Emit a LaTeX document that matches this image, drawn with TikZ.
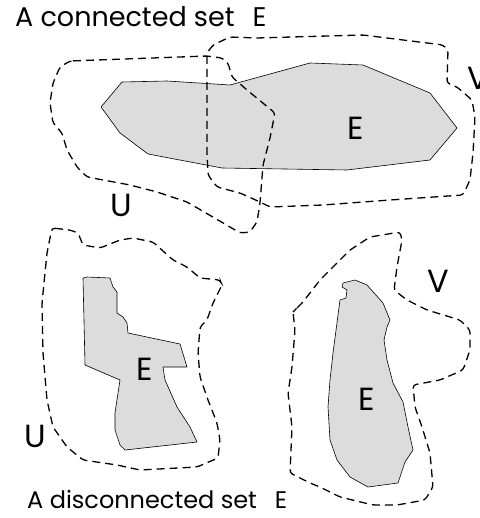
\documentclass[tikz,border=0pt]{standalone}
\usepackage{fontspec}
\setmainfont{Poppins}
\begin{document}
\begin{tikzpicture}[x=1pt,y=-1pt,
  setfill/.style={fill={rgb,255:red,220;green,220;blue,220}, draw=black, line width=0.6pt, line join=round},
  nbhd/.style={draw=black, dashed, dash pattern=on 8pt off 5pt, line width=1.3pt, rounded corners=3pt},
  lbl/.style={anchor=base, inner sep=0pt, font=\fontsize{32}{36}\selectfont},
  ttl/.style={anchor=base west, inner sep=0pt, font=\fontsize{24}{28}\selectfont}]
\useasboundingbox (0,0) rectangle (479,518);
% top: connected set
\path[setfill] (101,107) -- (122,82) -- (167,81) -- (230,85) -- (310,63) -- (363,65) -- (430,93) -- (457,128) -- (430,160) -- (347,170) -- (222,168) -- (148,154) -- (120,133) -- cycle;
\path[nbhd] (70,61) -- (207,56) -- (222,58) -- (228,63) -- (232,77) -- (247,90) -- (275,113) -- (270,138) -- (263,165) -- (260,203) -- (257,222) -- (250,232) -- (240,233) -- (230,227) -- (187,202) -- (157,192) -- (130,185) -- (87,177) -- (77,167) -- (67,150) -- (62,133) -- (53,123) -- (50,103) -- (53,83) -- (60,67) -- cycle;
\path[nbhd] (207,53) -- (213,45) -- (230,37) -- (257,38) -- (363,35) -- (443,45) -- (448,50) -- (447,83) -- (457,87) -- (472,100) -- (475,117) -- (473,153) -- (470,180) -- (463,195) -- (390,200) -- (323,205) -- (270,207) -- (260,202) -- (240,193) -- (217,187) -- (208,175) -- (207,153) -- cycle;
\node[ttl, font=\fontsize{27}{30}\selectfont] (t1) at (15,27) {A connected set\hspace{18pt}E};
\node[lbl] (e1) at (356,140) {E};
\node[lbl] (u1) at (121,217) {U};
\node[lbl] (v1) at (478,90) {V};
% bottom: disconnected set
\path[setfill] (83,278) -- (87,277) -- (110,278) -- (113,287) -- (117,292) -- (117,313) -- (123,317) -- (127,323) -- (128,333) -- (180,344) -- (187,367) -- (163,367) -- (165,380) -- (177,407) -- (190,427) -- (197,442) -- (125,450) -- (120,445) -- (115,430) -- (115,413) -- (120,380) -- (85,365) -- cycle;
\path[setfill] (343,283) -- (355,280) -- (367,285) -- (383,303) -- (390,320) -- (387,327) -- (384,340) -- (387,360) -- (393,383) -- (403,402) -- (408,427) -- (413,450) -- (405,462) -- (398,483) -- (368,487) -- (350,477) -- (337,460) -- (330,440) -- (328,407) -- (330,380) -- (333,353) -- (340,300) -- (346,298) -- (347,290) -- (342,287) -- cycle;
\path[nbhd] (52,228) -- (70,230) -- (78,233) -- (83,245) -- (100,248) -- (120,240) -- (133,238) -- (153,242) -- (173,260) -- (187,267) -- (200,278) -- (220,280) -- (222,285) -- (213,303) -- (207,320) -- (200,327) -- (198,353) -- (200,377) -- (208,400) -- (217,423) -- (220,440) -- (218,458) -- (197,467) -- (140,470) -- (117,465) -- (83,460) -- (67,447) -- (53,427) -- (47,400) -- (43,353) -- (42,303) -- (47,253) -- cycle;
\path[nbhd] (295,310) -- (303,302) -- (320,280) -- (337,263) -- (350,250) -- (370,237) -- (400,232) -- (402,240) -- (397,267) -- (394,290) -- (407,300) -- (427,310) -- (450,317) -- (460,320) -- (470,330) -- (470,350) -- (463,370) -- (440,380) -- (413,385) -- (415,407) -- (422,427) -- (430,453) -- (433,487) -- (425,500) -- (397,505) -- (373,505) -- (340,497) -- (320,487) -- (310,483) -- (298,477) -- (290,473) -- (292,427) -- (288,393) -- (292,367) -- (295,330) -- (293,312) -- cycle;
\node[ttl] (t2) at (27,508) {A disconnected set\hspace{18pt}E};
\node[lbl] (e2) at (145,380) {E};
\node[lbl] (u2) at (35,447) {U};
\node[lbl] (e3) at (367,410) {E};
\node[lbl] (v2) at (438,292) {V};
\end{tikzpicture}
\end{document}
